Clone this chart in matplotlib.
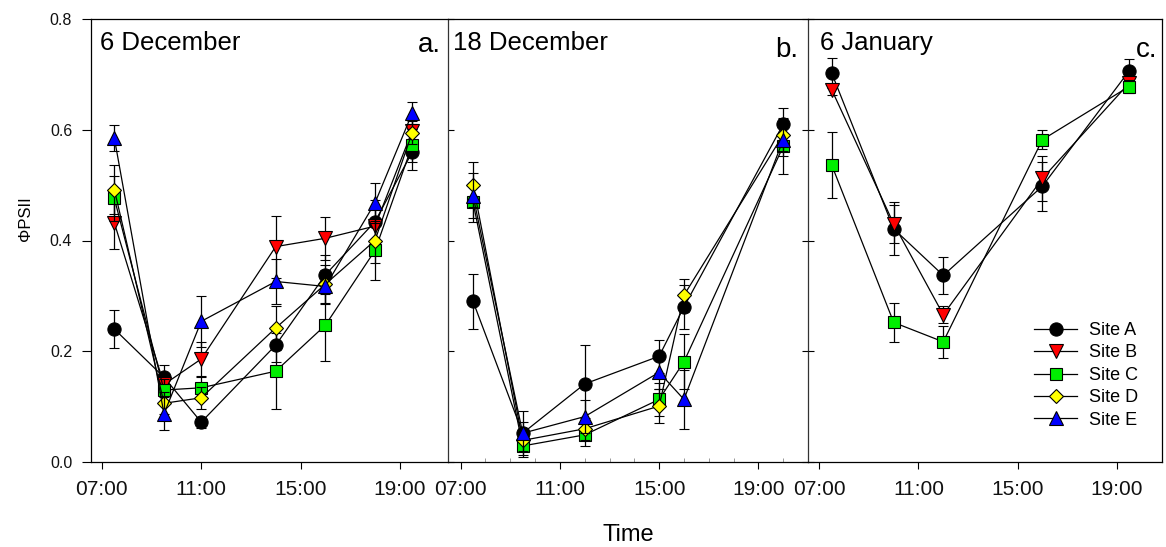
import matplotlib
matplotlib.use("Agg")
import matplotlib.pyplot as plt
from matplotlib.lines import Line2D

plt.rcParams['font.family'] = ['Liberation Sans', 'DejaVu Sans']

# ---------------- data ----------------
panel_titles = ["6 December", "18 December", "6 January"]
panel_letters = ["a.", "b.", "c."]
tick_hours = [7, 11, 15, 19]
tick_labels = ["07:00", "11:00", "15:00", "19:00"]
site_names = ["Site A", "Site B", "Site C", "Site D", "Site E"]

# Panel a: 6 December
times_a = [7.5, 9.5, 11.0, 14.0, 16.0, 18.0, 19.5]
a_A = [0.240, 0.153, 0.072, 0.211, 0.338, 0.434, 0.560]
a_A_err = [0.034, 0.022, 0.010, 0.030, 0.035, 0.040, 0.032]
a_B = [0.432, 0.140, 0.186, 0.389, 0.404, 0.426, 0.598]
a_B_err = [0.047, 0.020, 0.030, 0.056, 0.039, 0.030, 0.020]
a_C = [0.476, 0.130, 0.134, 0.164, 0.247, 0.382, 0.572]
a_C_err = [0.040, 0.020, 0.020, 0.069, 0.064, 0.053, 0.030]
a_D = [0.492, 0.106, 0.116, 0.242, 0.321, 0.400, 0.595]
a_D_err = [0.045, 0.020, 0.020, 0.040, 0.035, 0.040, 0.020]
a_E = [0.585, 0.087, 0.254, 0.326, 0.317, 0.468, 0.630]
a_E_err = [0.023, 0.030, 0.046, 0.040, 0.030, 0.036, 0.020]

# Panel b: 18 December (no Site B)
times_b = [7.5, 9.5, 12.0, 15.0, 16.0, 20.0]
b_A = [0.290, 0.052, 0.141, 0.191, 0.280, 0.610]
b_A_err = [0.050, 0.020, 0.070, 0.030, 0.040, 0.030]
b_C = [0.469, 0.029, 0.049, 0.113, 0.181, 0.570]
b_C_err = [0.035, 0.020, 0.020, 0.030, 0.050, 0.050]
b_D = [0.501, 0.039, 0.060, 0.101, 0.301, 0.591]
b_D_err = [0.040, 0.020, 0.020, 0.030, 0.030, 0.030]
b_E = [0.481, 0.052, 0.082, 0.162, 0.113, 0.582]
b_E_err = [0.040, 0.040, 0.030, 0.030, 0.053, 0.030]

# Panel c: 6 January (Sites A-C)
times_c = [7.5, 10.0, 12.0, 16.0, 19.5]
c_A = [0.702, 0.421, 0.337, 0.498, 0.706]
c_A_err = [0.027, 0.048, 0.033, 0.044, 0.022]
c_B = [0.672, 0.430, 0.266, 0.512, 0.684]
c_B_err = [0.010, 0.035, 0.015, 0.040, 0.010]
c_C = [0.536, 0.252, 0.217, 0.582, 0.678]
c_C_err = [0.060, 0.035, 0.029, 0.017, 0.012]

# ---------------- styles ----------------
styles = {
    "Site A": dict(marker='o', mfc='black', ms=9.5),
    "Site B": dict(marker='v', mfc='#ff0000', ms=9.5),
    "Site C": dict(marker='s', mfc='#00ee00', ms=8),
    "Site D": dict(marker='D', mfc='#ffff00', ms=7.5),
    "Site E": dict(marker='^', mfc='#0000ff', ms=9.5),
}

panels = [
    (times_a, {"Site A": (a_A, a_A_err), "Site B": (a_B, a_B_err), "Site C": (a_C, a_C_err),
               "Site D": (a_D, a_D_err), "Site E": (a_E, a_E_err)}),
    (times_b, {"Site A": (b_A, b_A_err), "Site C": (b_C, b_C_err),
               "Site D": (b_D, b_D_err), "Site E": (b_E, b_E_err)}),
    (times_c, {"Site A": (c_A, c_A_err), "Site B": (c_B, c_B_err), "Site C": (c_C, c_C_err)}),
]

W, H = 1166, 547
fig = plt.figure(figsize=(W / 100, H / 100), dpi=100)

edges = [91, 448, 808, 1162]
top_px, bot_px = 19, 462
xlims = [(6.56, 20.94), (6.49, 21.0), (6.54, 20.83)]
title_dx = [9, 5, 12]
letter_dx = [7, 10, 5]
letter_base = [52, 57, 57]

axes = []
for i in range(3):
    l = edges[i] / W
    w = (edges[i + 1] - edges[i]) / W
    b = 1 - bot_px / H
    h = (bot_px - top_px) / H
    ax = fig.add_axes([l, b, w, h])
    ax.patch.set_visible(False)
    axes.append(ax)
    times, series = panels[i]
    for k, name in enumerate(site_names):
        if name not in series:
            continue
        vals, errs = series[name]
        st = styles[name]
        ax.errorbar(times, vals, yerr=errs, color='black', lw=0.9,
                    marker=st['marker'], mfc=st['mfc'], mec='black', mew=0.8,
                    ms=st['ms'], ecolor='black', elinewidth=0.9, capsize=3.5,
                    capthick=0.9, zorder=2 + k)
    ax.set_xlim(*xlims[i])
    ax.set_ylim(0, 0.8)
    ax.set_xticks(tick_hours)
    ax.set_xticklabels(tick_labels, fontsize=15, color='#111111')
    ax.tick_params(axis='x', direction='out', length=5, width=0.8, pad=8)
    ax.set_yticks([0.0, 0.2, 0.4, 0.6, 0.8])
    for sp in ax.spines.values():
        sp.set_linewidth(0.9)
    if i == 0:
        ax.set_yticklabels(["0.0", "0.2", "0.4", "0.6", "0.8"], fontsize=11.5, color='#111111')
        ax.tick_params(axis='y', direction='out', length=6.5, width=0.8, pad=7)
        ax.spines['right'].set_visible(False)
    else:
        ax.tick_params(axis='y', direction='in', length=4, width=0.8,
                       labelleft=False, left=True, right=(i == 1))
    if i == 1:
        ax.spines['left'].set_color('#333333')
        ax.spines['right'].set_color('#333333')
        ax.set_xticks(range(7, 21), minor=True)
        ax.tick_params(axis='x', which='minor', direction='in', length=3,
                       width=0.6, color='#888888')
    if i == 2:
        ax.spines['left'].set_visible(False)
    ax.annotate(panel_titles[i], xy=(0, 1), xycoords='axes fraction',
                xytext=(title_dx[i] * 0.72, -31 * 0.72), textcoords='offset points',
                ha='left', va='baseline', fontsize=18.5)
    ax.annotate(panel_letters[i], xy=(1, 1), xycoords='axes fraction',
                xytext=(-letter_dx[i] * 0.72, -(letter_base[i] - 19) * 0.72),
                textcoords='offset points', ha='right', va='baseline', fontsize=20)

# legend in panel c
handles = [Line2D([], [], color='black', lw=0.9, marker=styles[n]['marker'],
                  mfc=styles[n]['mfc'], mec='black', mew=0.8, ms=styles[n]['ms'])
           for n in site_names]
fig.legend(handles, site_names, loc='upper left',
           bbox_to_anchor=(1034 / W, 1 - 322 / H), frameon=False, fontsize=13,
           handlelength=2.4, handletextpad=0.65, labelspacing=0.3,
           borderpad=0, borderaxespad=0)

fig.text(25.5 / W, 1 - 219 / H, "ΦPSII", rotation=90, ha='center', va='center',
         fontsize=12)
fig.text(628 / W, 1 - 535 / H, "Time", ha='center', va='center', fontsize=17)

fig.savefig("out.png", dpi=100)
